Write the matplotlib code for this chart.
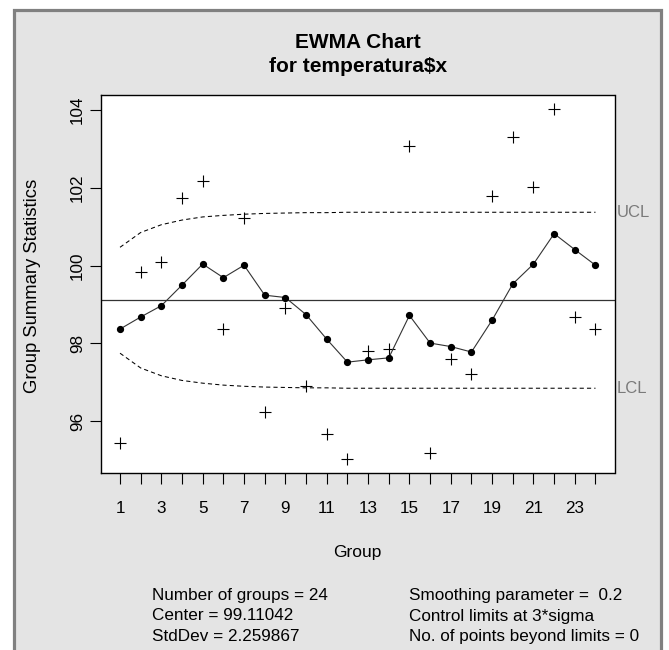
#!/usr/bin/env python3
"""EWMA control chart for temperatura$x, drawn in the style of R's qcc."""
import matplotlib
matplotlib.use("Agg")
import matplotlib.pyplot as plt
from matplotlib.patches import Rectangle

plt.rcParams['font.family'] = ['Liberation Sans', 'DejaVu Sans']

# group summary statistics (one observation per group)
groups = list(range(1, 25))
stats = [95.44, 99.84, 100.09, 101.74, 102.18, 98.36, 101.21, 96.25,
		 98.90, 96.92, 95.68, 95.04, 97.80, 97.85, 103.08, 95.18,
		 97.59, 97.21, 101.78, 103.30, 102.03, 104.03, 98.67, 98.36]
# smoothed EWMA statistic
ewma = [98.37, 98.68, 98.97, 99.50, 100.04, 99.69, 100.01, 99.24,
		99.18, 98.74, 98.11, 97.52, 97.58, 97.63, 98.72, 98.01,
		97.92, 97.78, 98.60, 99.53, 100.04, 100.82, 100.41, 100.01]
ucl = [100.47, 100.85, 101.05, 101.17, 101.25, 101.29, 101.32, 101.34,
	   101.35, 101.36, 101.36, 101.37, 101.37, 101.37, 101.37, 101.37,
	   101.37, 101.37, 101.37, 101.37, 101.37, 101.37, 101.37, 101.37]
lcl = [97.75, 97.37, 97.17, 97.05, 96.98, 96.93, 96.90, 96.88,
	   96.87, 96.86, 96.86, 96.85, 96.85, 96.85, 96.85, 96.85,
	   96.85, 96.85, 96.85, 96.85, 96.85, 96.85, 96.85, 96.85]
center = 99.11042
std_dev = 2.259867
smoothing = 0.2
yticks = [96, 98, 100, 102, 104]

W, H = 669, 650


def px(x, y):
	"""Pixel position (from top left) to figure fraction."""
	return x / W, 1 - y / H


fig = plt.figure(figsize=(W / 100, H / 100), dpi=100, facecolor='white')

# grey device background with its darker frame, kept behind the axes
x0, y0 = px(13.5, 700)
x1, y1 = px(660.5, 9.5)
fig.add_artist(Rectangle((x0, y0), x1 - x0, y1 - y0, transform=fig.transFigure,
						 facecolor='#e4e4e4', edgecolor='#808080', linewidth=2.3,
						 zorder=-10))

left, top = px(101, 94.7)
right, bottom = px(614.5, 472.7)
ax = fig.add_axes([left, bottom, right - left, top - bottom])
ax.set_facecolor('white')

ax.axhline(center, color='#333333', linewidth=0.9)
ax.plot(groups, ucl, color='black', linewidth=0.75, dashes=(4, 3))
ax.plot(groups, lcl, color='black', linewidth=0.75, dashes=(4, 3))
ax.plot(groups, stats, linestyle='none', marker='+', markersize=9,
		markeredgewidth=0.8, color='black')
ax.plot(groups, ewma, color='#333333', linewidth=0.8, marker='o',
		markersize=4.2, markerfacecolor='black', markeredgecolor='black')

# R style axis ranges: data range plus 4% on each side
xr = (groups[-1] - groups[0]) * 0.04
ax.set_xlim(groups[0] - xr, groups[-1] + xr)
lo, hi = min(stats + lcl), max(stats + ucl)
ax.set_ylim(lo - (hi - lo) * 0.04, hi + (hi - lo) * 0.04)

ax.set_xticks(groups)
ax.set_xticklabels([str(g) if g % 2 else '' for g in groups])
ax.set_yticks(yticks)
ax.set_yticklabels([str(v) for v in yticks], rotation=90, va='center')
ax.tick_params(axis='both', direction='out', length=8, width=0.8,
			   labelsize=12.3, colors='black')
ax.tick_params(axis='x', pad=12.5)
ax.tick_params(axis='y', pad=3.5)
for side in ax.spines.values():
	side.set_linewidth(1.0)

ax.text(1.005, ucl[-1], 'UCL', transform=ax.get_yaxis_transform(),
		ha='left', va='center', fontsize=12, color='#7a7a7a', clip_on=False)
ax.text(1.005, lcl[-1], 'LCL', transform=ax.get_yaxis_transform(),
		ha='left', va='center', fontsize=12, color='#7a7a7a', clip_on=False)

fig.text(*px(358, 48.3), 'EWMA Chart', ha='center', va='baseline',
		 fontsize=15, fontweight='bold')
fig.text(*px(358, 71.7), 'for temperatura$x', ha='center', va='baseline',
		 fontsize=15, fontweight='bold')
fig.text(*px(357.7, 556.7), 'Group', ha='center', va='baseline', fontsize=12.5)
fig.text(*px(33, 286), 'Group Summary Statistics', ha='center',
		 va='center', rotation=90, fontsize=13.3)

left_col = ['Number of groups = %d' % len(groups),
			'Center = %s' % center,
			'StdDev = %s' % std_dev]
right_col = ['Smoothing parameter =  %s' % smoothing,
			 'Control limits at 3*sigma',
			 'No. of points beyond limits = 0']
for i, (a, b) in enumerate(zip(left_col, right_col)):
	y = 600 + i * 20.5
	fig.text(*px(151.7, y), a, ha='left', va='baseline', fontsize=12.3)
	fig.text(*px(409, y), b, ha='left', va='baseline', fontsize=12.3)

fig.savefig('out.png', dpi=100)
